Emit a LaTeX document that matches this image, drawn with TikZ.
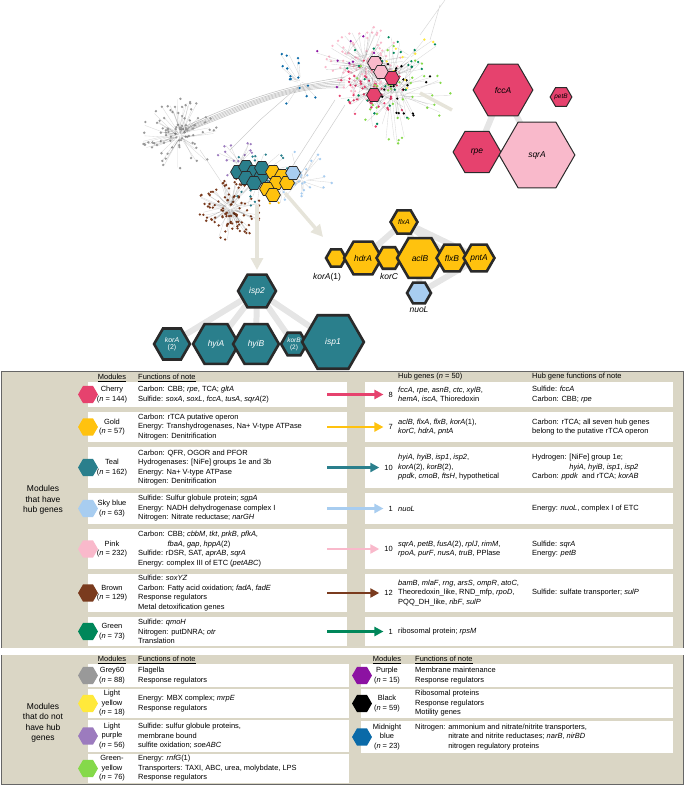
\documentclass[tikz,border=0pt]{standalone}
\usepackage{fontspec}
\setmainfont{Liberation Sans}
\usetikzlibrary{arrows.meta,shapes.geometric}
\definecolor{cherry}{HTML}{E6426E}
\definecolor{gold}{HTML}{FFC20E}
\definecolor{teal}{HTML}{2A7F8C}
\definecolor{sky}{HTML}{A8CDF0}
\definecolor{pinkc}{HTML}{F9B9CB}
\definecolor{brownc}{HTML}{7A3B1E}
\definecolor{greenc}{HTML}{00875A}
\definecolor{grey60}{HTML}{999999}
\definecolor{lyellow}{HTML}{FFE93B}
\definecolor{lpurple}{HTML}{9C7BBE}
\definecolor{gyellow}{HTML}{85D94A}
\definecolor{purplec}{HTML}{8C12A2}
\definecolor{mblue}{HTML}{0A6AA8}
\definecolor{beige}{HTML}{DAD6C5}
\definecolor{bigarr}{HTML}{E6E4DA}
\definecolor{outl}{HTML}{2A2A2A}
\tikzset{
 t/.style={font=\fontsize{7.5}{9.5}\selectfont, align=left, inner sep=0, anchor=west},
 nm/.style={font=\fontsize{7.5}{9.5}\selectfont, align=center, inner sep=0},
 hd/.style={font=\fontsize{7.5}{9.5}\selectfont, inner sep=0},
 ico/.style={regular polygon, regular polygon sides=6, minimum size=20, inner sep=0, draw=none},
 hx/.style={regular polygon, regular polygon sides=6, inner sep=0, draw=outl, line width=2.6, font=\fontsize{8.5}{9}\selectfont\itshape},
 shx/.style={regular polygon, regular polygon sides=6, inner sep=0, draw=outl, line width=0.7, minimum size=15},
 arr/.style={line width=2.2, -{Triangle[length=9,width=9]}},
 big/.style={bigarr, line width=3.5, -{Triangle[length=12,width=12]}},
 hl/.style={line width=6, black!10},
}
\newcommand{\netcl}[6]{% cx cy R color N seed
 \pgfmathsetseed{#6}
 \foreach \k in {1,...,#5}{
  \pgfmathsetmacro\ang{360*rnd}\pgfmathsetmacro\rr{#3*(0.1+0.9*rnd)}
  \draw[black, opacity=.15, line width=.35] (#1,#2) ++(\ang+60*rnd-30:0.2*\rr) -- ++(\ang:0.8*\rr);
  \fill[#4] (#1,#2) ++(\ang:\rr) circle (1.3);
 }}
\begin{document}
\begin{tikzpicture}[x=1bp,y=-1bp]
\useasboundingbox (0,0) rectangle (685,791);
% ---------- network ----------
\foreach \o in {0,2,4,6,8,-3}{
 \draw[black!25, line width=.5] (185,128+\o/2) .. controls (250,100+\o) and (290,85) .. (345,80+\o);}
\draw[black!20, line width=.5] (300,175) -- (345,105) (290,170) -- (335,100) (230,150) -- (260,120) -- (300,85);
\draw[black!15, line width=.5] (420,35) -- (445,0) (430,40) -- (440,5) (200,150) -- (240,210);
\netcl{180}{135}{38}{grey60}{90}{3}
\netcl{365}{65}{40}{pinkc}{90}{4}
\netcl{372}{92}{35}{cherry}{55}{5}
\netcl{392}{75}{55}{greenc}{30}{6}
\netcl{398}{85}{35}{black}{25}{7}
\netcl{393}{95}{60}{gyellow}{40}{8}
\netcl{410}{58}{40}{lyellow}{12}{9}
\netcl{345}{60}{35}{purplec}{8}{10}
\netcl{300}{82}{35}{mblue}{15}{11}
\netcl{240}{165}{25}{lpurple}{25}{12}
\netcl{258}{176}{32}{teal}{45}{13}
\netcl{282}{186}{22}{gold}{12}{14}
\netcl{302}{180}{30}{sky}{30}{15}
\netcl{230}{208}{32}{brownc}{100}{16}
% small hexes in network
\foreach \x/\y [count=\i] in {238/172,246/167,254/172,246/178,261/177,254/183,262/168}{
 \node[shx, fill=teal] (nt\i) at (\x,\y) {};}
\foreach \x/\y [count=\i] in {273/172,282/176,276/183,287/183,267/189,273/195}{
 \node[shx, fill=gold] (ng\i) at (\x,\y) {};}
\node[shx, fill=sky] (ns1) at (293,173) {};
\node[shx, fill=pinkc] (np1) at (375,63) {};
\node[shx, fill=pinkc] (np2) at (381,72) {};
\node[shx, fill=cherry] (nc1) at (392,78) {};
\node[shx, fill=cherry] (nc2) at (374,95) {};
% big arrows
\coordinate (ba1) at (257,205); \coordinate (bb1) at (257,270);
\coordinate (ba2) at (285,193); \coordinate (bb2) at (323,237);
\coordinate (ba3) at (420,93);  \coordinate (bb3) at (452,110);
\draw[big] (ba1) -- (bb1);
\draw[big] (ba2) -- (bb2);
\draw[bigarr, line width=3.5] (ba3) -- (bb3);
% ---------- cherry group ----------
\draw[hl] (503,90) -- (477,152) (503,90) -- (537,155);
\node[hx, fill=cherry, minimum size=60, line width=1] (fccA) at (503,90) {fccA};
\node[hx, fill=cherry, minimum size=48, line width=1] (rpe) at (477,152) {rpe};
\node[hx, fill=pinkc, minimum size=76, line width=1] (sqrA) at (537,155) {sqrA};
\node[hx, fill=cherry, minimum size=20, line width=1, font=\fontsize{6.5}{7}\selectfont\itshape] (petB) at (561,97) {petB};
% ---------- gold group ----------
\draw[hl] (404,222) -- (363,258) (404,222) -- (420,258) (404,222) -- (452,258) (404,222) -- (479,258)
 (419,293) -- (420,258) (419,293) -- (479,258);
\node[hx, fill=gold, minimum size=27, font=\fontsize{7}{8}\selectfont\itshape] (flxA) at (404,222) {flxA};
\node[hx, fill=gold, minimum size=20] (korA1) at (336,258) {};
\node[hx, fill=gold, minimum size=38] (hdrA) at (363,258) {hdrA};
\node[hx, fill=gold, minimum size=25] (korC) at (389,258) {};
\node[hx, fill=gold, minimum size=46] (aclB) at (420,258) {aclB};
\node[hx, fill=gold, minimum size=31] (flxB) at (452,258) {flxB};
\node[hx, fill=gold, minimum size=31] (pntA) at (479,258) {pntA};
\node[hx, fill=sky, minimum size=24] (nuoL) at (419,293) {};
\node[font=\fontsize{8.5}{9}\selectfont\itshape, inner sep=0] (lkorA1) at (327,277) {korA\textup{(1)}};
\node[font=\fontsize{8.5}{9}\selectfont\itshape, inner sep=0] (lkorC) at (389,276) {korC};
\node[font=\fontsize{8.5}{9}\selectfont\itshape, inner sep=0] (lnuoL) at (419,310) {nuoL};
% ---------- teal group ----------
\draw[hl] (257,291) -- (170,344) (257,291) -- (216,344) (257,291) -- (256,344) (257,291) -- (294,344) (257,291) -- (333,342);
\node[hx, fill=teal, minimum size=38, text=white] (isp2) at (257,291) {isp2};
\node[hx, fill=teal, minimum size=36, text=white, align=center, font=\fontsize{7}{7.5}\selectfont\itshape] (korA2) at (172,344) {korA\\\textup{(2)}};
\node[hx, fill=teal, minimum size=46, text=white] (hyiA) at (216,344) {hyiA};
\node[hx, fill=teal, minimum size=46, text=white] (hyiB) at (256,344) {hyiB};
\node[hx, fill=teal, minimum size=26, text=white, align=center, font=\fontsize{6.5}{7}\selectfont\itshape] (korB2) at (294,344) {korB\\\textup{(2)}};
\node[hx, fill=teal, minimum size=62, text=white] (isp1) at (333,342) {isp1};
% ---------- upper panel ----------
\fill[beige] (1,371) rectangle (683,648);
\draw[black!60, line width=.8] (1,648) -- (1,371) -- (683,371) -- (683,648);
\node[hd] (h1) at (112,378) {\underline{Modules}};
\node[hd, anchor=west] (h2) at (138,378) {\underline{Functions of note}};
\node[hd, anchor=west] (h3) at (398,378) {\underline{Hub genes (\textit{n} = 50)}};
\node[hd, anchor=west] (h4) at (532,378) {\underline{Hub gene functions of note}};
\node[nm, font=\fontsize{8.5}{10.5}\selectfont] (lab1) at (43,500) {Modules\\that have\\hub genes};
\foreach \a/\b in {382/407,412/442,447/488,493/524,529/569,574/612,617/646}{
 \fill[white] (88,\a) rectangle (347,\b);
 \fill[white] (365,\a) rectangle (673,\b);}
% rows
\node[ico, fill=cherry] (i1) at (88,394.5) {};
\node[nm] (m1) at (112,394.5) {Cherry\\(\textit{n} = 144)};
\node[t] (f1) at (138,394.5) {Carbon: CBB; \textit{rpe}, TCA; \textit{gltA}\\Sulfide: \textit{soxA}, \textit{soxL}, \textit{fccA}, \textit{tusA}, \textit{sqrA}(2)};
\node[ico, fill=gold] (i2) at (88,427) {};
\node[nm] (m2) at (112,427) {Gold\\(\textit{n} = 57)};
\node[t] (f2) at (138,427) {Carbon: rTCA putative operon\\Energy: Transhydrogenases, Na+ V-type ATPase\\Nitrogen: Denitrification};
\node[ico, fill=teal] (i3) at (88,467.5) {};
\node[nm] (m3) at (112,467.5) {Teal\\(\textit{n} = 162)};
\node[t] (f3) at (138,467.5) {Carbon: QFR, OGOR and PFOR\\Hydrogenases: [NiFe] groups 1e and 3b\\Energy: Na+ V-type ATPase\\Nitrogen: Denitrification};
\node[ico, fill=sky] (i4) at (88,508.5) {};
\node[nm] (m4) at (112,508.5) {Sky blue\\(\textit{n} = 63)};
\node[t] (f4) at (138,508.5) {Sulfide: Sulfur globule protein; \textit{sgpA}\\Energy: NADH dehydrogenase complex I\\Nitrogen: Nitrate reductase; \textit{narGH}};
\node[ico, fill=pinkc] (i5) at (88,549) {};
\node[nm] (m5) at (112,549) {Pink\\(\textit{n} = 232)};
\node[t] (f5) at (138,549) {Carbon: CBB; \textit{cbbM}, \textit{tkt}, \textit{prkB}, \textit{pfkA},\\\phantom{Carbon: }\textit{fbaA}, \textit{gap}, \textit{hppA}(2)\\Sulfide: rDSR, SAT, \textit{aprAB}, \textit{sqrA}\\Energy: complex III of ETC (\textit{petABC})};
\node[ico, fill=brownc] (i6) at (88,593) {};
\node[nm] (m6) at (112,593) {Brown\\(\textit{n} = 129)};
\node[t] (f6) at (138,593) {Sulfide: \textit{soxYZ}\\Carbon: Fatty acid oxidation; \textit{fadA}, \textit{fadE}\\Response regulators\\Metal detoxification genes};
\node[ico, fill=greenc] (i7) at (88,631.5) {};
\node[nm] (m7) at (112,631.5) {Green\\(\textit{n} = 73)};
\node[t] (f7) at (138,631.5) {Sulfide: \textit{qmoH}\\Nitrogen: putDNRA; \textit{otr}\\Translation};
% hub genes
\node[t, anchor=east] (n1) at (393,394.5) {8};
\node[t] (g1) at (398,394.5) {\textit{fccA}, \textit{rpe}, \textit{asnB}, \textit{ctc}, \textit{xylB},\\\textit{hemA}, \textit{iscA}, Thioredoxin};
\node[t] (k1) at (532,394.5) {Sulfide: \textit{fccA}\\Carbon: CBB; \textit{rpe}};
\node[t, anchor=east] (n2) at (393,427) {7};
\node[t] (g2) at (398,427) {\textit{aclB}, \textit{flxA}, \textit{flxB}, \textit{korA}(1),\\\textit{korC}, \textit{hdrA}, \textit{pntA}};
\node[t] (k2) at (532,427) {Carbon: rTCA; all seven hub genes\\belong to the putative rTCA operon};
\node[t, anchor=east] (n3) at (393,467.5) {10};
\node[t] (g3) at (398,467.5) {\textit{hyiA}, \textit{hyiB}, \textit{isp1}, \textit{isp2},\\\textit{korA}(2), \textit{korB}(2),\\\textit{ppdk}, \textit{cmoB}, \textit{ftsH}, hypothetical};
\node[t] (k3) at (532,467.5) {Hydrogen: [NiFe] group 1e;\\\phantom{Hydrogen: }\textit{hyiA}, \textit{hyiB}, \textit{isp1}, \textit{isp2}\\Carbon: \textit{ppdk} \ and rTCA; \textit{korAB}};
\node[t, anchor=east] (n4) at (393,508.5) {1};
\node[t] (g4) at (398,508.5) {\textit{nuoL}};
\node[t] (k4) at (532,508.5) {Energy: \textit{nuoL}, complex I of ETC};
\node[t, anchor=east] (n5) at (393,549) {10};
\node[t] (g5) at (398,549) {\textit{sqrA}, \textit{petB}, \textit{fusA}(2), \textit{rplJ}, \textit{rimM},\\\textit{rpoA}, \textit{purF}, \textit{nusA}, \textit{truB}, PPlase};
\node[t] (k5) at (532,549) {Sulfide: \textit{sqrA}\\Energy: \textit{petB}};
\node[t, anchor=east] (n6) at (393,593) {12};
\node[t] (g6) at (398,593) {\textit{bamB}, \textit{mlaF}, \textit{rng}, \textit{arsS}, \textit{ompR}, \textit{atoC},\\Theoredoxin\_like, RND\_mfp, \textit{rpoD},\\PQQ\_DH\_like, \textit{ribF}, \textit{sulP}};
\node[t] (k6) at (532,593) {Sulfide: sulfate transporter; \textit{sulP}};
\node[t, anchor=east] (n7) at (393,631.5) {1};
\node[t] (g7) at (398,631.5) {ribosomal protein; \textit{rpsM}};
% arrows
\foreach \y/\c [count=\i] in {394.5/cherry,427/gold,467.5/teal,508.5/sky,549/pinkc,593/brownc,631.5/greenc}{
 \coordinate (as\i) at (327,\y);
 \draw[arr, \c] (as\i) -- ([xshift=-5bp]n\i.west |- as\i);}
% ---------- lower panel ----------
\fill[beige] (1,655) rectangle (683,784);
\draw[black!60, line width=.8] (1,784) -- (1,655) (683,655) -- (683,784) -- (1,784);
\node[nm, font=\fontsize{8.5}{10.5}\selectfont] (lab2) at (43,723) {Modules\\that do not\\have hub\\genes};
\node[hd] (h5) at (112,660) {\underline{Modules}};
\node[hd, anchor=west] (h6) at (138,660) {\underline{Functions of note}};
\node[hd] (h7) at (387,660) {\underline{Modules}};
\node[hd, anchor=west] (h8) at (415,660) {\underline{Functions of note}};
\foreach \a/\b in {664/687,689/718,720/752,754/783}{\fill[white] (88,\a) rectangle (349,\b);}
\foreach \a/\b in {664/687,689/718,721/753}{\fill[white] (361,\a) rectangle (673,\b);}
\node[ico, fill=grey60] (j1) at (88,675.5) {};
\node[nm] (o1) at (112,675.5) {Grey60\\(\textit{n} = 88)};
\node[t] (p1) at (138,675.5) {Flagella\\Response regulators};
\node[ico, fill=lyellow] (j2) at (88,703.5) {};
\node[nm] (o2) at (112,703.5) {Light\\yellow\\(\textit{n} = 18)};
\node[t] (p2) at (138,703.5) {Energy: MBX complex; \textit{mrpE}\\Response regulators};
\node[ico, fill=lpurple] (j3) at (88,736) {};
\node[nm] (o3) at (112,736) {Light\\purple\\(\textit{n} = 56)};
\node[t] (p3) at (138,736) {Sulfide: sulfur globule proteins,\\membrane bound\\sulfite oxidation; \textit{soeABC}};
\node[ico, fill=gyellow] (j4) at (88,768.5) {};
\node[nm] (o4) at (112,768.5) {Green-\\yellow\\(\textit{n} = 76)};
\node[t] (p4) at (138,768.5) {Energy: \textit{rnfG}(1)\\Transporters: TAXI, ABC, urea, molybdate, LPS\\Response regulators};
\node[ico, fill=purplec] (j5) at (362,675.5) {};
\node[nm] (o5) at (387,675.5) {Purple\\(\textit{n} = 15)};
\node[t] (p5) at (415,675.5) {Membrane maintenance\\Response regulators};
\node[ico, fill=black] (j6) at (362,703.5) {};
\node[nm] (o6) at (387,703.5) {Black\\(\textit{n} = 59)};
\node[t] (p6) at (415,703.5) {Ribosomal proteins\\Response regulators\\Motility genes};
\node[ico, fill=mblue] (j7) at (362,737) {};
\node[nm] (o7) at (387,737) {Midnight\\blue\\(\textit{n} = 23)};
\node[t] (p7) at (415,737) {Nitrogen: ammonium and nitrate/nitrite transporters,\\\phantom{Nitrogen: }nitrate and nitrite reductases; \textit{narB}, \textit{nirBD}\\\phantom{Nitrogen: }nitrogen regulatory proteins};
\end{tikzpicture}
\end{document}
